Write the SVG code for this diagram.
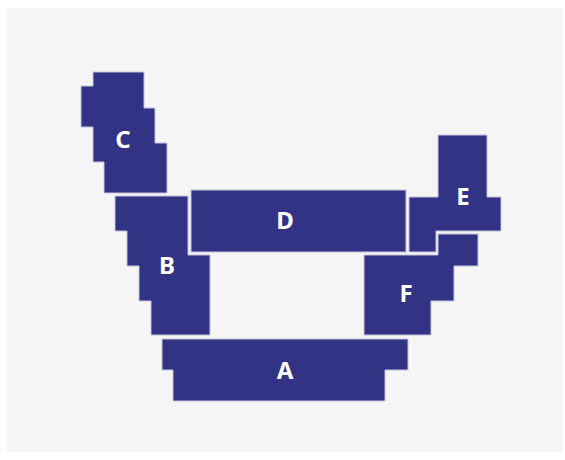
<svg xmlns="http://www.w3.org/2000/svg" width="565" height="460" viewBox="0 0 565 460">
<style>
.blk{fill:#333385;stroke:#c4c4dc;stroke-width:1}
.lbl{font-family:"Noto Sans","Liberation Sans",sans-serif;font-weight:bold;font-size:24px;fill:#ffffff;text-anchor:middle}
</style>
<rect x="0" y="0" width="565" height="460" fill="#ffffff"/>
<rect x="7" y="8" width="556" height="444" fill="#f5f5f5"/>
<g id="C">
<polygon class="blk" points="93,72 144,72 144,108 155,108 155,143 167,143 167,193 104,193 104,162 93,162 93,127 81,127 81,86 93,86"/>
<text class="lbl" x="123" y="147.5">C</text>
</g>
<g id="B">
<polygon class="blk" points="115,196 188,196 188,255 210,255 210,335 151,335 151,301 139,301 139,266 127,266 127,231 115,231"/>
<text class="lbl" x="167" y="274">B</text>
</g>
<g id="D">
<rect class="blk" x="191" y="190" width="215" height="62"/>
<text class="lbl" x="285" y="229">D</text>
</g>
<g id="E">
<polygon class="blk" points="438,135 487,135 487,197 501,197 501,231 436,231 436,252 409,252 409,197 438,197"/>
<text class="lbl" x="463" y="204.5">E</text>
</g>
<g id="F">
<polygon class="blk" points="438,234 478,234 478,266 454,266 454,301 431,301 431,335 364,335 364,255 438,255"/>
<text class="lbl" x="406" y="302">F</text>
</g>
<g id="A">
<polygon class="blk" points="162,339 408,339 408,370 385,370 385,401 173,401 173,370 162,370"/>
<text class="lbl" x="285" y="378.5">A</text>
</g>
<g id="connectors"></g>
</svg>
